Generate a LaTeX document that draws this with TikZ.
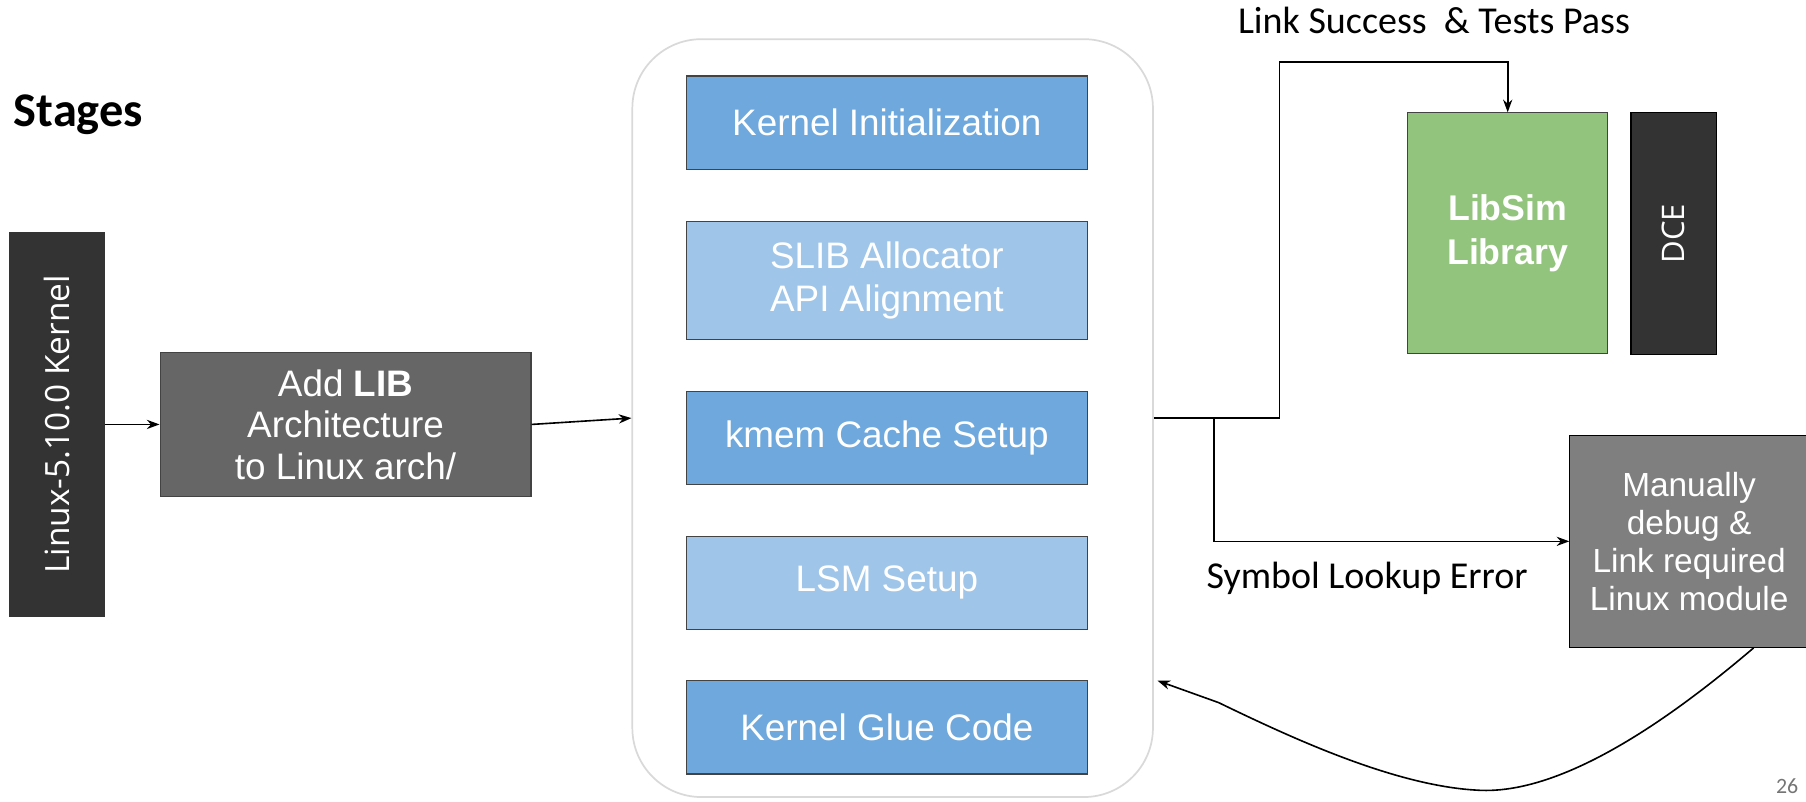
\documentclass[tikz,border=0pt]{standalone}
\usepackage{fontspec}
\setmainfont{Liberation Sans}
\newfontfamily\labelfont{Carlito}
\newfontfamily\sidefont{Open Sans}
\usetikzlibrary{arrows.meta,calc}

\definecolor{darkfill}{HTML}{333333}
\definecolor{patchfill}{HTML}{666666}
\definecolor{debugfill}{HTML}{7F7F7F}
\definecolor{stageblue}{HTML}{6FA8DC}
\definecolor{stagelight}{HTML}{9FC5E8}
\definecolor{libgreen}{HTML}{93C47D}
\definecolor{boxline}{HTML}{434343}
\definecolor{contline}{HTML}{D9D9D9}
\definecolor{pagegray}{HTML}{757575}

\tikzset{
  box/.style={draw=boxline, line width=1pt, inner sep=0pt, align=center, text=white},
  stagebox/.style={box, minimum width=348pt, minimum height=81pt,
    font=\fontsize{32}{38}\selectfont},
  caption/.style={font=\labelfont\fontsize{33}{36}\selectfont},
}

\begin{document}
\begin{tikzpicture}[x=1pt, y=-1pt, line width=1.4pt, >={Stealth[length=11pt,width=8pt]}]
  \useasboundingbox (0,0) rectangle (1568,696);

  % Title
  \node[anchor=west, font=\labelfont\bfseries\fontsize{42}{46}\selectfont] (stages) at (8,100) {Stages};

  % Kernel source and the LIB port
  \node[box, fill=darkfill, draw=darkfill, rotate=90, minimum width=333pt, minimum height=83pt,
    font=\sidefont\fontsize{29}{32}\selectfont] (kern) at (49.5,368.5) {Linux-5.10.0 Kernel};
  \node[box, fill=patchfill, minimum width=322pt, minimum height=125pt,
    font=\fontsize{32}{36}\selectfont] (add) at (300,368.5) {Add \textbf{LIB}\\Architecture\\ to Linux arch/};

  % Container with the stages
  \node[draw=contline, line width=1.5pt, rounded corners=60pt, minimum width=452pt,
    minimum height=658pt] (cont) at (775,363) {};
  \node[stagebox, fill=stageblue] (init) at (770,106.5) {Kernel Initialization};
  \node[stagebox, fill=stagelight, minimum height=103pt] (slib) at (770,243.5) {SLIB Allocator\\API Alignment};
  \node[stagebox, fill=stageblue] (kmem) at (770,380.5) {kmem Cache Setup};
  \node[stagebox, fill=stagelight] (lsm) at (770,506) {LSM Setup};
  \node[stagebox, fill=stageblue] (glue) at (770,631.5) {Kernel Glue Code};

  % Results
  \node[box, fill=libgreen, minimum width=174pt, minimum height=209pt,
    font=\bfseries\fontsize{31}{38}\selectfont] (lib) at (1309,202.5) {LibSim\\Library};
  \node[box, fill=darkfill, draw=black, rotate=90, minimum width=210pt, minimum height=74pt,
    font=\sidefont\fontsize{27}{30}\selectfont] (dce) at (1453,203) {DCE};
  \node[box, fill=debugfill, draw=black, minimum width=207pt, minimum height=184pt,
    font=\fontsize{29}{33}\selectfont] (man) at (1466.5,470) {Manually\\debug \&\\Link required\\Linux module};

  % Labels
  \node[caption] (ok) at (1245,18) {Link Success\ \ \& Tests Pass};
  \node[caption] (err) at (1187,502) {Symbol Lookup Error};
  \node[anchor=south east, inner sep=0pt, text=pagegray, font=\labelfont\fontsize{19}{21}\selectfont] (page) at (1562,690) {26};

  % Connectors
  \coordinate (top) at (1111,54);
  \coordinate (split) at (1054,363);
  \coordinate (back) at (1005,591);
  \draw[->] (kern) -- (add);
  \draw[->] (add.east) -- (cont.west);
  \draw[->] (cont.east) -| (top) -| (lib.north);
  \draw[->] (split) |- (man.west);
  \draw[->] ([xshift=56pt]man.south) .. controls (1420,650) and (1340,690) .. (1282,686)
    .. controls (1210,682) and (1120,640) .. (1058,610) -- (back);
\end{tikzpicture}
\end{document}
